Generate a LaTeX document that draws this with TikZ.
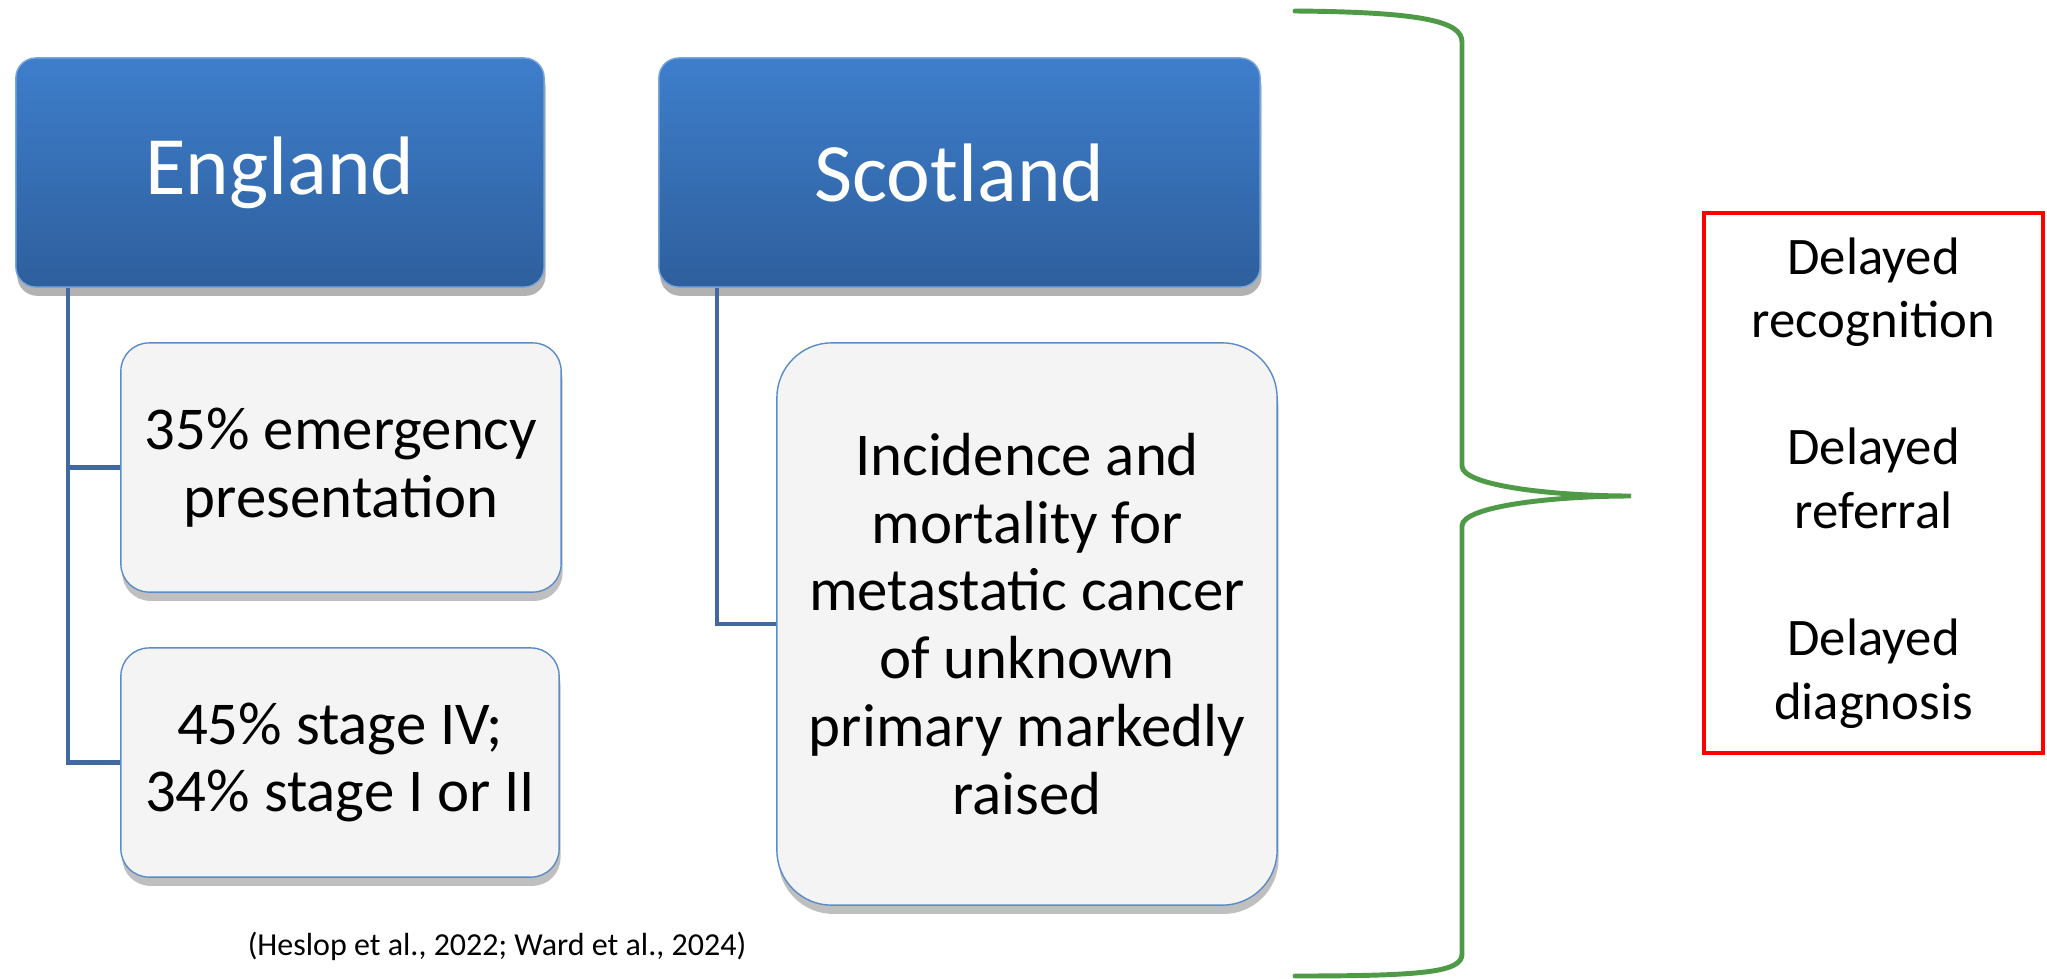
\documentclass[tikz,border=0pt]{standalone}
\usepackage{fontspec}
\setmainfont{Carlito}
\usetikzlibrary{shadows}
\definecolor{HeadTop}{RGB}{62,126,203}
\definecolor{HeadBottom}{RGB}{46,95,157}
\definecolor{FactFill}{RGB}{244,244,244}
\definecolor{FactLine}{RGB}{92,140,200}
\definecolor{LinkBlue}{RGB}{66,104,160}
\definecolor{BraceGreen}{RGB}{78,154,70}
\tikzset{%
    Head node/.style={%
        rounded corners=0.2cm,
        top color=HeadTop,
        bottom color=HeadBottom,
        draw=HeadTop!70!white,
        thin,
        text=white,
        font=\fontsize{23.6pt}{28pt}\selectfont,
        minimum height=2.29cm,
        drop shadow={shadow xshift=0.4pt,shadow yshift=-2.5pt,
            opacity=0.3,fill=black}
    },
    Fact node/.style={%
        rounded corners=0.28cm,
        fill=FactFill,
        draw=FactLine,
        thin,
        align=center,
        font=\fontsize{17.3pt}{19.3pt}\selectfont,
        drop shadow={shadow xshift=0.4pt,shadow yshift=-2.5pt,
            opacity=0.25,fill=black}
    },
    Link line/.style={%
        LinkBlue,
        line width=1.3pt
    },
    Delay box/.style={%
        draw=red,
        line width=1.2pt,
        align=center,
        font=\fontsize{15pt}{18.1pt}\selectfont
    }
}

\begin{document}
\begin{tikzpicture}[x=0.01cm,y=-0.01cm]
\useasboundingbox (0,0) rectangle (2047,978);

% en-tetes
\node[Head node,minimum width=5.28cm] (eng) at (280,172.5) {England};
\node[Head node,minimum width=6.01cm] (sco) at (959.5,172.5) {Scotland};

% constats
\node[Fact node,minimum width=4.40cm,minimum height=2.49cm] (eng1)
    at (341,467.5) {35\% emergency\\presentation};
\node[Fact node,minimum width=4.38cm,minimum height=2.29cm] (eng2)
    at (340,762.5) {45\% stage IV;\\34\% stage I or II};
\node[Fact node,rounded corners=0.55cm,
      minimum width=5.00cm,minimum height=5.62cm] (sco1)
    at (1027,624) {Incidence and\\mortality for\\metastatic cancer\\
                   of unknown\\primary markedly\\raised};

\draw[Link line] ([xshift=0.53cm]eng.south west) |- (eng1.west);
\draw[Link line] ([xshift=0.53cm]eng.south west) |- (eng2.west);
\draw[Link line] ([xshift=0.59cm]sco.south west) |- (sco1.west);

\node[font=\fontsize{9.1pt}{11pt}\selectfont] (refs) at (497,946)
    {(Heslop et al., 2022; Ward et al., 2024)};

% accolade
\coordinate (bTop) at (1295,11);
\coordinate (bTip) at (1631,496);
\coordinate (bBot) at (1295,976);
\draw[BraceGreen,line width=1.4pt,line cap=round]
    (bTop) .. controls (1425,12) and (1462,22) .. (1462,42)
    -- (1462,466) .. controls (1462,486) and (1555,496) .. (bTip)
    .. controls (1555,496) and (1462,506) .. (1462,526)
    -- (1462,954) .. controls (1462,972) and (1425,976) .. (bBot);

\node[Delay box,minimum width=3.39cm,minimum height=5.40cm] (delay)
    at (1873.5,483) {Delayed\\recognition\\[18.1pt]Delayed\\referral\\[18.1pt]
                     Delayed\\diagnosis};

\end{tikzpicture}
\end{document}
